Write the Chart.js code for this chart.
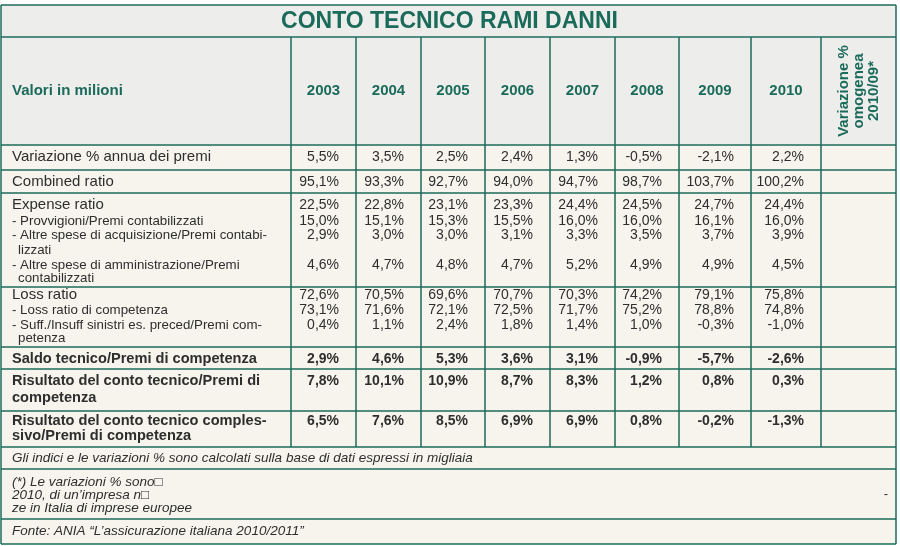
<!DOCTYPE html>
<html>
<head>
<meta charset="utf-8">
<script src="https://cdn.jsdelivr.net/npm/chart.js@4.4.0/dist/chart.umd.min.js"></script>
<style>
  html, body { margin: 0; padding: 0; background: #ffffff; }
  canvas { display: block; }
</style>
</head>
<body>
<canvas id="tableChart" width="900" height="546"></canvas>
<script>
// values (percent)
const years = ['2003', '2004', '2005', '2006', '2007', '2008', '2009', '2010'];
const variazionePremi = [5.5, 3.5, 2.5, 2.4, 1.3, -0.5, -2.1, 2.2];
const combinedRatio = [95.1, 93.3, 92.7, 94.0, 94.7, 98.7, 103.7, 100.2];
const expenseRatio = [22.5, 22.8, 23.1, 23.3, 24.4, 24.5, 24.7, 24.4];
const provvigioni = [15.0, 15.1, 15.3, 15.5, 16.0, 16.0, 16.1, 16.0];
const altreAcquisizione = [2.9, 3.0, 3.0, 3.1, 3.3, 3.5, 3.7, 3.9];
const altreAmministrazione = [4.6, 4.7, 4.8, 4.7, 5.2, 4.9, 4.9, 4.5];
const lossRatio = [72.6, 70.5, 69.6, 70.7, 70.3, 74.2, 79.1, 75.8];
const lossCompetenza = [73.1, 71.6, 72.1, 72.5, 71.7, 75.2, 78.8, 74.8];
const suffInsuff = [0.4, 1.1, 2.4, 1.8, 1.4, 1.0, -0.3, -1.0];
const saldoTecnico = [2.9, 4.6, 5.3, 3.6, 3.1, -0.9, -5.7, -2.6];
const risultatoTecnico = [7.8, 10.1, 10.9, 8.7, 8.3, 1.2, 0.8, 0.3];
const risultatoComplessivo = [6.5, 7.6, 8.5, 6.9, 6.9, 0.8, -0.2, -1.3];

const title = 'CONTO TECNICO RAMI DANNI';
const headLabel = 'Valori in milioni';
const lastColLabel = ['Variazione %', 'omogenea', '2010/09*'];
const noteText = 'Gli indici e le variazioni % sono calcolati sulla base di dati espressi in migliaia';
const starNote = ['(*) Le variazioni % sono\u25A1', '2010, di un\u2019impresa n\u25A1', 'ze in Italia di imprese europee'];
const sourceText = 'Fonte: ANIA \u201cL\u2019assicurazione italiana 2010/2011\u201d';

// layout of the grid, in scale units
const colEdges = [1, 291, 356, 421, 485, 550, 615, 679, 751, 821, 896];
const rowEdges = [5, 37, 145, 170, 193, 287, 347, 369, 411, 447, 469, 519, 544];

const GREEN = '#1b6b5b';
const TEXT = '#2e2e2e';
const FONT = '"Liberation Sans", Arial, sans-serif';

// body blocks: each line = [label, values, y, kind, indent]
const blocks = [
  [['Variazione % annua dei premi', variazionePremi, 157, 'main']],
  [['Combined ratio', combinedRatio, 182, 'main']],
  [['Expense ratio', expenseRatio, 205, 'main'],
   ['- Provvigioni/Premi contabilizzati', provvigioni, 221, 'sub'],
   ['- Altre spese di acquisizione/Premi contabi-', altreAcquisizione, 235, 'sub'],
   ['lizzati', null, 250, 'sub', 6],
   ['- Altre spese di amministrazione/Premi', altreAmministrazione, 265, 'sub'],
   ['contabilizzati', null, 278, 'sub', 6]],
  [['Loss ratio', lossRatio, 295, 'main'],
   ['- Loss ratio di competenza', lossCompetenza, 310, 'sub'],
   ['- Suff./Insuff sinistri es. preced/Premi com-', suffInsuff, 325, 'sub'],
   ['petenza', null, 338, 'sub', 6]],
  [['Saldo tecnico/Premi di competenza', saldoTecnico, 359, 'bold']],
  [['Risultato del conto tecnico/Premi di', risultatoTecnico, 381, 'bold'],
   ['competenza', null, 398, 'bold']],
  [['Risultato del conto tecnico comples-', risultatoComplessivo, 421, 'bold'],
   ['sivo/Premi di competenza', null, 436, 'bold']]
];

const fmt = v => v.toFixed(1).replace('.', ',') + '%';

const tablePlugin = {
  id: 'tablePlugin',
  beforeDraw(chart) {
    const ctx = chart.ctx;
    const xs = chart.scales.x, ys = chart.scales.y;
    const X = v => xs.getPixelForValue(v);
    const Y = v => ys.getPixelForValue(v);
    const left = X(colEdges[0]), right = X(colEdges[colEdges.length - 1]);

    const text = (str, x, y, font, align, color) => {
      ctx.font = font;
      ctx.textAlign = align;
      ctx.textBaseline = 'middle';
      ctx.fillStyle = color;
      ctx.fillText(str, X(x), Y(y));
    };

    ctx.save();
    // backgrounds
    ctx.fillStyle = '#ededec';
    ctx.fillRect(left, Y(rowEdges[0]), right - left, Y(rowEdges[2]) - Y(rowEdges[0]));
    ctx.fillStyle = '#f6f4ec';
    ctx.fillRect(left, Y(rowEdges[2]), right - left, Y(rowEdges[rowEdges.length - 1]) - Y(rowEdges[2]));

    // grid lines
    ctx.strokeStyle = GREEN;
    ctx.lineWidth = 1.5;
    rowEdges.forEach(r => {
      ctx.beginPath();
      ctx.moveTo(left, Y(r));
      ctx.lineTo(right, Y(r));
      ctx.stroke();
    });
    colEdges.forEach((c, i) => {
      const outer = i === 0 || i === colEdges.length - 1;
      const top = outer ? rowEdges[0] : rowEdges[1];
      const bottom = outer ? rowEdges[rowEdges.length - 1] : rowEdges[9];
      ctx.beginPath();
      ctx.moveTo(X(c), Y(top));
      ctx.lineTo(X(c), Y(bottom));
      ctx.stroke();
    });

    // title and header
    text(title, (colEdges[0] + colEdges[10]) / 2 + 1, 21.5, 'bold 23px ' + FONT, 'center', GREEN);
    text(headLabel, 12, 91, 'bold 15px ' + FONT, 'left', GREEN);
    years.forEach((yr, i) => {
      text(yr, (colEdges[i + 1] + colEdges[i + 2]) / 2, 91, 'bold 15px ' + FONT, 'center', GREEN);
    });
    ctx.save();
    ctx.translate(X((colEdges[9] + colEdges[10]) / 2), Y(91));
    ctx.rotate(-Math.PI / 2);
    ctx.font = 'bold 15px ' + FONT;
    ctx.textAlign = 'center';
    ctx.textBaseline = 'middle';
    ctx.fillStyle = GREEN;
    lastColLabel.forEach((s, i) => ctx.fillText(s, 0, (i - 1) * 15));
    ctx.restore();

    // body rows
    blocks.forEach(block => {
      block.forEach(([label, vals, y, kind, indent]) => {
        const lf = kind === 'main' ? '15px ' : kind === 'sub' ? '13.3px ' : 'bold 14.6px ';
        const vf = kind === 'bold' ? 'bold 14px ' : '14px ';
        text(label, 12 + (indent || 0), y, lf + FONT, 'left', TEXT);
        if (vals) {
          vals.forEach((v, i) => {
            text(fmt(v), colEdges[i + 2] - 17, y, vf + FONT, 'right', TEXT);
          });
        }
      });
    });

    // notes
    text(noteText, 12, 458, 'italic 13.5px ' + FONT, 'left', TEXT);
    starNote.forEach((s, i) => text(s, 12, 482 + i * 13, 'italic 13.5px ' + FONT, 'left', TEXT));
    text('-', 886, 494, '13px ' + FONT, 'center', TEXT);
    text(sourceText, 12, 531, 'italic 13.5px ' + FONT, 'left', TEXT);
    ctx.restore();
  }
};

new Chart(document.getElementById('tableChart'), {
  type: 'scatter',
  data: { datasets: [] },
  options: {
    responsive: false,
    animation: false,
    devicePixelRatio: 1,
    layout: { padding: 0 },
    plugins: {
      legend: { display: false },
      tooltip: { enabled: false }
    },
    scales: {
      x: { type: 'linear', display: false, min: 0, max: 900 },
      y: { type: 'linear', display: false, min: 0, max: 546, reverse: true }
    }
  },
  plugins: [tablePlugin]
});
</script>
</body>
</html>
